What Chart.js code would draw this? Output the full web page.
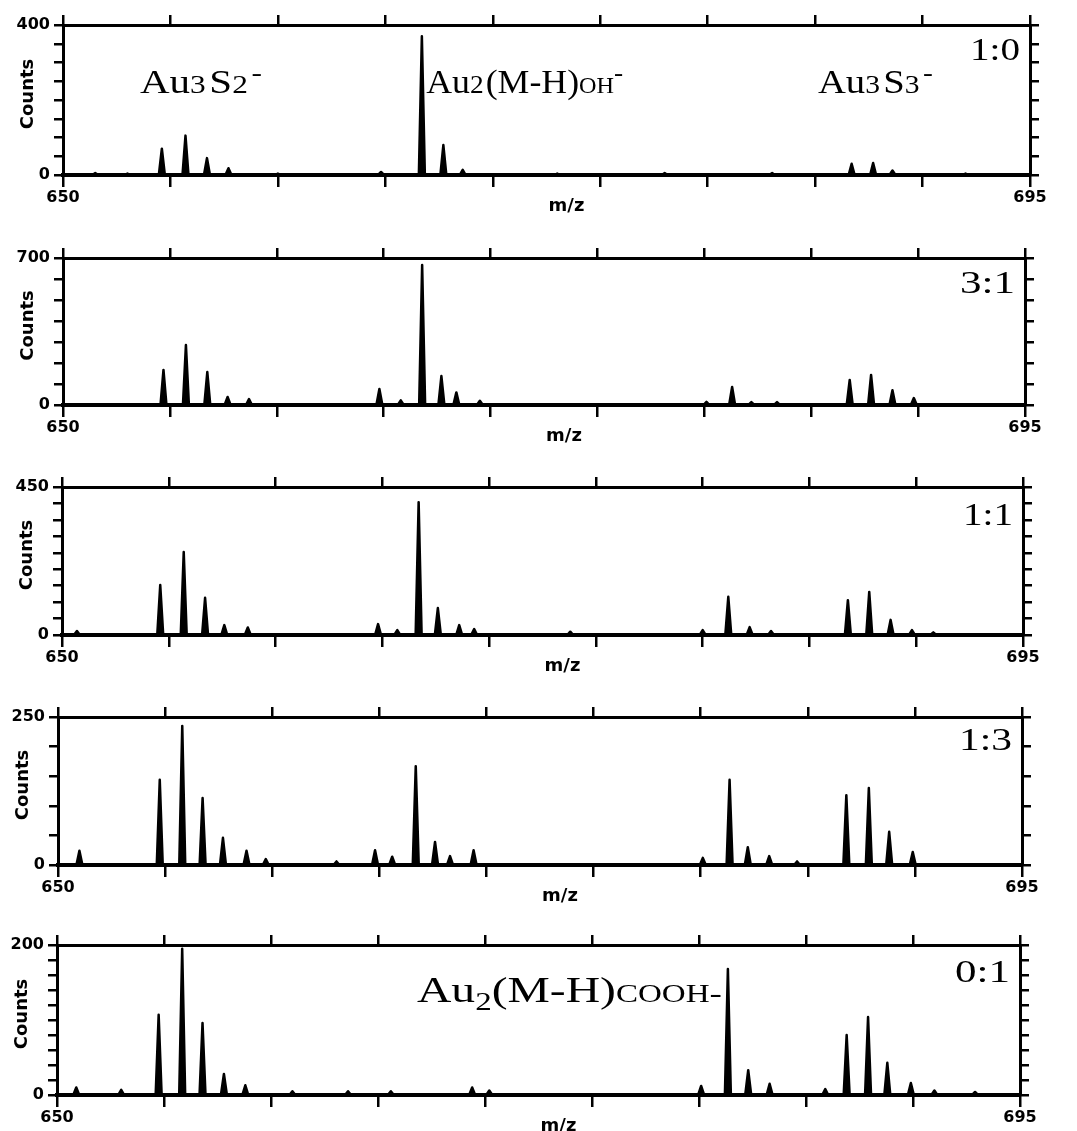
<!DOCTYPE html>
<html>
<head>
<meta charset="utf-8">
<script src="https://cdn.jsdelivr.net/npm/chart.js@4.4.0/dist/chart.umd.min.js"></script>
<style>
  html, body { margin: 0; padding: 0; background: #fff; }
  #page { position: relative; width: 1077px; height: 1131px; background: #fff; }
  #page canvas { position: absolute; left: 0; }
</style>
</head>
<body>
<div id="page"></div>
<script>
// shared m/z axis
const MZ_MIN = 650;
const MZ_MAX = 695;
const MZ_STEP = 5;

// ratio 1:0
const mz10     = [651.5, 653.0, 654.6, 655.7, 656.7, 657.7, 660.0, 664.8, 666.7, 667.7, 668.6, 673.0, 678.0, 683.0, 686.7, 687.7, 688.6, 692.0];
const counts10 = [5, 4, 70, 105, 45, 18, 4, 8, 370, 80, 14, 4, 5, 5, 30, 32, 12, 4];

// ratio 3:1
const mz31     = [654.7, 655.75, 656.75, 657.7, 658.7, 664.8, 665.8, 666.8, 667.7, 668.4, 669.5, 680.1, 681.3, 682.2, 683.4, 686.8, 687.8, 688.8, 689.8];
const counts31 = [167, 286, 157, 38, 28, 76, 22, 667, 138, 60, 20, 15, 86, 14, 14, 119, 143, 70, 33];

// ratio 1:1
const mz11     = [650.7, 654.6, 655.7, 656.7, 657.6, 658.7, 664.8, 665.7, 666.7, 667.6, 668.6, 669.3, 673.8, 680.0, 681.2, 682.2, 683.2, 686.8, 687.8, 688.8, 689.8, 690.8];
const counts11 = [12, 152, 252, 113, 30, 23, 33, 15, 404, 82, 30, 18, 10, 15, 116, 24, 12, 106, 131, 46, 15, 8];

// ratio 1:3
const mz13     = [651.0, 654.75, 655.8, 656.75, 657.7, 658.8, 659.7, 663.0, 664.8, 665.6, 666.7, 667.6, 668.3, 669.4, 680.1, 681.35, 682.2, 683.2, 684.5, 686.8, 687.85, 688.8, 689.9];
const counts13 = [24, 144, 235, 113, 46, 24, 10, 6, 25, 14, 167, 39, 15, 25, 12, 144, 30, 15, 6, 118, 130, 56, 22];

// ratio 0:1
const mz01     = [650.9, 653.0, 654.75, 655.85, 656.8, 657.8, 658.8, 661.0, 663.6, 665.6, 669.4, 670.2, 680.1, 681.35, 682.3, 683.3, 685.9, 686.9, 687.9, 688.8, 689.9, 691.0, 692.9];
const counts01 = [10, 7, 107, 195, 96, 28, 13, 5, 5, 5, 10, 6, 12, 168, 33, 15, 8, 80, 104, 43, 16, 6, 4];

const ratioLabels = ['1:0', '3:1', '1:1', '1:3', '0:1'];
const yMaxes = [400, 700, 450, 250, 200];
const ySteps = [50, 100, 50, 50, 20];

const PAGE_W = 1077;
const panels = [
  { top: 25,  bottom: 175,  left: 63, right: 1030, mz: mz10, counts: counts10, ratioDy: 35, ratioW: 50 },
  { top: 258, bottom: 405,  left: 63, right: 1025, mz: mz31, counts: counts31, ratioDy: 35, ratioW: 55 },
  { top: 487, bottom: 635,  left: 62, right: 1023, mz: mz11, counts: counts11, ratioDy: 38, ratioW: 50 },
  { top: 717, bottom: 865,  left: 58, right: 1022, mz: mz13, counts: counts13, ratioDy: 33, ratioW: 53 },
  { top: 945, bottom: 1095, left: 57, right: 1020, mz: mz01, counts: counts01, ratioDy: 37, ratioW: 55 }
];

// extra serif labels: [text, size, dy, gap]
const extraNotes = [
  [
    { mz: 653.58, dy: 68, width: 122, runs: [['Au', 34], ['3', 26, 0, 3], ['S', 34], ['2', 26, 0, 3], ['-', 26, -12]] },
    { mz: 666.9,  dy: 68, width: 197, runs: [['Au', 34], ['2', 26, 0, 2], ['(M-H)', 34], ['OH', 23], ['-', 26, -12]] },
    { mz: 685.13, dy: 68, width: 115, runs: [['Au', 34], ['3', 26, 0, 3], ['S', 34], ['3', 26, 0, 3], ['-', 26, -12]] }
  ],
  [], [], [],
  [
    { mz: 666.82, dy: 57, width: 305, runs: [['Au', 36], ['2', 25, 8], ['(M-H)', 36], ['COOH', 25], ['-', 28]] }
  ]
];

const TICK_FONT = { family: '"DejaVu Sans", sans-serif', size: 16, weight: 'bold' };
const SERIF = '"Liberation Serif", "Times New Roman", serif';

const notesPlugin = {
  id: 'notes',
  afterDraw(chart) {
    const opts = chart.options.plugins.notes;
    if (!opts) return;
    const ctx = chart.ctx;
    const area = chart.chartArea;
    const xs = chart.scales.x;
    ctx.save();
    ctx.fillStyle = '#000';

    // axis names
    ctx.font = 'bold 18px "DejaVu Sans", sans-serif';
    ctx.textAlign = 'center';
    ctx.textBaseline = 'alphabetic';
    ctx.fillText('m/z', (area.left + area.right) / 2 + 20, area.bottom + 36);
    ctx.save();
    ctx.translate(area.left - 35, (area.top + area.bottom) / 2 - 6);
    ctx.rotate(-Math.PI / 2);
    ctx.textBaseline = 'middle';
    ctx.fillText('Counts', 0, 0);
    ctx.restore();

    // serif labels, stretched to the width seen in the scan
    ctx.textAlign = 'left';
    ctx.textBaseline = 'alphabetic';
    opts.items.forEach(item => {
      let natural = 0;
      item.runs.forEach(r => {
        ctx.font = r[1] + 'px ' + SERIF;
        natural += ctx.measureText(r[0]).width + (r[3] || 0);
      });
      const w = item.width || natural;
      const x0 = item.mz !== undefined ? xs.getPixelForValue(item.mz) : area.right + item.dx - w;
      ctx.save();
      ctx.translate(x0, area.top + item.dy);
      ctx.scale(w / natural, 1);
      let cx = 0;
      item.runs.forEach(r => {
        ctx.font = r[1] + 'px ' + SERIF;
        ctx.fillText(r[0], cx, r[2] || 0);
        cx += ctx.measureText(r[0]).width + (r[3] || 0);
      });
      ctx.restore();
    });
    ctx.restore();
  }
};

// stick spectrum: each peak is a narrow triangle on the baseline
function spectrumPoints(mz, counts) {
  const pts = [{ x: MZ_MIN, y: 0 }];
  mz.forEach((m, i) => {
    pts.push({ x: m - 0.14, y: 0 });
    pts.push({ x: m, y: counts[i] });
    pts.push({ x: m + 0.14, y: 0 });
  });
  pts.push({ x: MZ_MAX, y: 0 });
  return pts;
}

function makePanel(p, i) {
  const TOP_PAD = 22;
  const BOTTOM_PAD = 48;
  const canvas = document.createElement('canvas');
  canvas.width = PAGE_W;
  canvas.height = p.bottom - p.top + TOP_PAD + BOTTOM_PAD;
  canvas.style.top = (p.top - TOP_PAD) + 'px';
  document.getElementById('page').appendChild(canvas);

  const yMax = yMaxes[i];
  const axisGrid = (len) => ({ drawOnChartArea: false, drawTicks: true, tickLength: len, color: '#000', lineWidth: 2.5 });
  const axisBorder = (w) => ({ display: true, color: '#000', width: w });

  const notes = extraNotes[i].slice();
  notes.push({ dx: -10, dy: p.ratioDy, width: p.ratioW, runs: [[ratioLabels[i], 32]] });

  new Chart(canvas, {
    type: 'line',
    data: {
      datasets: [{
        data: spectrumPoints(p.mz, p.counts),
        borderColor: '#000',
        backgroundColor: '#000',
        borderWidth: 2.5,
        borderJoinStyle: 'round',
        pointRadius: 0,
        tension: 0,
        fill: 'origin',
        clip: false
      }]
    },
    options: {
      responsive: false,
      animation: false,
      events: [],
      layout: { padding: 0 },
      plugins: {
        legend: { display: false },
        tooltip: { enabled: false },
        notes: { items: notes }
      },
      scales: {
        x: {
          type: 'linear', position: 'bottom', min: MZ_MIN, max: MZ_MAX,
          grid: axisGrid(12), border: axisBorder(4),
          ticks: {
            stepSize: MZ_STEP, autoSkip: false, maxRotation: 0, padding: 1,
            color: '#000', font: TICK_FONT,
            callback: v => (v === MZ_MIN || v === MZ_MAX) ? String(v) : ''
          },
          afterFit: s => { s.height = BOTTOM_PAD; }
        },
        x2: {
          type: 'linear', position: 'top', min: MZ_MIN, max: MZ_MAX,
          grid: axisGrid(10), border: axisBorder(3),
          ticks: { stepSize: MZ_STEP, autoSkip: false, display: false },
          afterFit: s => { s.height = TOP_PAD; }
        },
        y: {
          position: 'left', min: 0, max: yMax,
          grid: axisGrid(9), border: axisBorder(3),
          ticks: {
            stepSize: ySteps[i], autoSkip: false, padding: 4,
            color: '#000', font: TICK_FONT,
            callback: v => (v === 0 || v === yMax) ? String(v) : ''
          },
          afterFit: s => { s.width = p.left; }
        },
        y2: {
          position: 'right', min: 0, max: yMax,
          grid: axisGrid(9), border: axisBorder(3),
          ticks: { stepSize: ySteps[i], autoSkip: false, display: false },
          afterFit: s => { s.width = PAGE_W - p.right; }
        }
      }
    },
    plugins: [notesPlugin]
  });
}

panels.forEach(makePanel);
</script>
</body>
</html>
